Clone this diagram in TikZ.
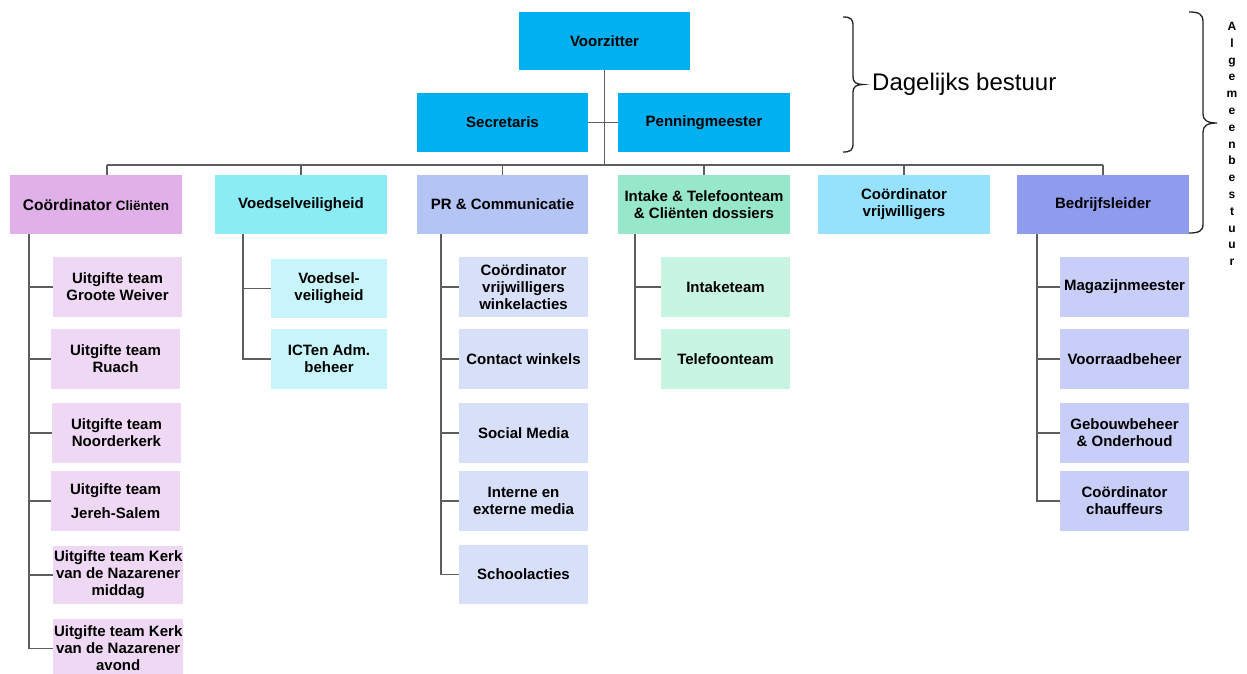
\documentclass[tikz,border=0pt]{standalone}
\usepackage{fontspec}
\setmainfont{Liberation Sans}
\definecolor{topblue}{HTML}{00B0F0}
\definecolor{pinkA}{HTML}{E0B0E8}
\definecolor{pinkB}{HTML}{EFD8F3}
\definecolor{cyanA}{HTML}{8CECF4}
\definecolor{cyanB}{HTML}{C8F5F9}
\definecolor{prA}{HTML}{B4C4F4}
\definecolor{prB}{HTML}{D8E0F9}
\definecolor{grA}{HTML}{96E8C8}
\definecolor{grB}{HTML}{C8F4E2}
\definecolor{cvA}{HTML}{96E2FC}
\definecolor{blA}{HTML}{8F9CEE}
\definecolor{blB}{HTML}{C8CEF8}
\definecolor{linegray}{HTML}{5E5E5E}
\definecolor{bracegray}{HTML}{222222}
\tikzset{
  box/.style={rectangle,draw=none,inner sep=1pt,outer sep=0pt,anchor=north west,
    align=center,text=black,font=\bfseries\fontsize{15}{17}\selectfont},
  link/.style={draw=linegray,line width=1.3pt},
  bracepath/.style={draw=bracegray,line width=1.3pt},
}
\newcommand\orgbox[7]{\node[box,fill=#2,minimum width={#5-#3},minimum height={#6-#4}] (#1) at (#3,#4) {#7};}
\begin{document}
\begin{tikzpicture}[x=1pt,y=-1pt]
\useasboundingbox[fill=white] (0,0) rectangle (1247,673);
% top level
\orgbox{vz}{topblue}{519}{12}{690}{70}{Voorzitter}
\orgbox{sec}{topblue}{417}{93}{588}{152}{Secretaris}
\orgbox{pen}{topblue}{618}{93}{790}{152}{Penningmeester}
% level 2
\orgbox{ccl}{pinkA}{10}{175}{182}{234}{{\fontsize{15.5}{17}\selectfont Coördinator} {\fontsize{13.5}{17}\selectfont Cliënten}}
\orgbox{vv}{cyanA}{215}{175}{387}{234}{Voedselveiligheid}
\orgbox{pr}{prA}{417}{175}{588}{234}{PR \& Communicatie}
\orgbox{int}{grA}{618}{175}{790}{234}{Intake \& Telefoonteam\\\& Cliënten dossiers}
\orgbox{cvw}{cvA}{818}{175}{990}{234}{Coördinator\\vrijwilligers}
\orgbox{bl}{blA}{1017}{175}{1189}{234}{Bedrijfsleider}
% column 1
\orgbox{c1}{pinkB}{53}{257}{182}{317}{Uitgifte team\\Groote Weiver}
\orgbox{c2}{pinkB}{51}{329}{180}{389}{Uitgifte team\\Ruach}
\orgbox{c3}{pinkB}{52}{403}{181}{463}{Uitgifte team\\Noorderkerk}
\orgbox{c4}{pinkB}{51}{471}{180}{531}{Uitgifte team\\[7pt]Jereh-Salem}
\orgbox{c5}{pinkB}{53}{546}{182}{604}{Uitgifte team Kerk\\van de Nazarener\\middag}
\orgbox{c6}{pinkB}{53}{619}{182}{678}{Uitgifte team Kerk\\van de Nazarener\\avond}
% column 2
\orgbox{v1}{cyanB}{271}{259}{387}{318}{Voedsel-\\veiligheid}
\orgbox{v2}{cyanB}{271}{329}{387}{389}{ICTen Adm.\\beheer}
% column 3
\orgbox{p1}{prB}{459}{257}{588}{317}{Coördinator\\vrijwilligers\\winkelacties}
\orgbox{p2}{prB}{459}{329}{588}{389}{Contact winkels}
\orgbox{p3}{prB}{459}{403}{588}{463}{Social Media}
\orgbox{p4}{prB}{459}{471}{588}{531}{Interne en\\externe media}
\orgbox{p5}{prB}{459}{545}{588}{604}{Schoolacties}
% column 4
\orgbox{i1}{grB}{661}{257}{790}{317}{Intaketeam}
\orgbox{i2}{grB}{661}{329}{790}{389}{Telefoonteam}
% column 6
\orgbox{b1}{blB}{1060}{257}{1189}{317}{Magazijnmeester}
\orgbox{b2}{blB}{1060}{329}{1189}{389}{Voorraadbeheer}
\orgbox{b3}{blB}{1060}{403}{1189}{463}{Gebouwbeheer\\\& Onderhoud}
\orgbox{b4}{blB}{1060}{471}{1189}{531}{Coördinator\\chauffeurs}
% coordinates
\coordinate (busL) at (107,165);
\coordinate (busR) at (1103,165);
\coordinate (s1) at (29,0);
\coordinate (s2) at (243,0);
\coordinate (s3) at (441,0);
\coordinate (s4) at (635,0);
\coordinate (s6) at (1037,0);
% top connectors
\draw[link] (vz.south) -- (vz.south |- busL);
\draw[link] (sec.east) -- (pen.west);
\draw[link] (busL) -- (busR);
\draw[link] ([xshift=11pt]ccl.north) -- ([xshift=11pt]ccl.north |- busL);
\foreach \n in {vv,pr,int,cvw,bl} {\draw[link] (\n.north) -- (\n.north |- busL);}
% child stems
\draw[link] (ccl.south -| s1) |- (c6.west);
\foreach \n in {c1,c2,c3,c4,c5} {\draw[link] (\n.west) -- (\n.west -| s1);}
\draw[link] (vv.south -| s2) |- (v2.west);
\draw[link] (v1.west) -- (v1.west -| s2);
\draw[link] (pr.south -| s3) |- (p5.west);
\foreach \n in {p1,p2,p3,p4} {\draw[link] (\n.west) -- (\n.west -| s3);}
\draw[link] (int.south -| s4) |- (i2.west);
\draw[link] (i1.west) -- (i1.west -| s4);
\draw[link] (bl.south -| s6) |- (b4.west);
\foreach \n in {b1,b2,b3} {\draw[link] (\n.west) -- (\n.west -| s6);}
% braces
\draw[bracepath] (843,17) .. controls (851,17) and (853,19) .. (853,26) -- (853,77)
  .. controls (853,82) and (856,84.5) .. (863,84.5)
  .. controls (856,84.5) and (853,87) .. (853,92) -- (853,143)
  .. controls (853,150) and (851,152) .. (843,152);
\node[anchor=west,inner sep=0pt,font=\fontsize{24}{28}\selectfont] (db) at (872,84) {Dagelijks bestuur};
\draw[bracepath] (1189,12) .. controls (1199,12) and (1203,14) .. (1203,22) -- (1203,114)
  .. controls (1203,120) and (1207,123) .. (1217,123)
  .. controls (1207,123) and (1203,126) .. (1203,132) -- (1203,224)
  .. controls (1203,231) and (1199,233) .. (1189,233);
\node[align=center,inner sep=0pt,font=\bfseries\fontsize{12}{16.8}\selectfont] (ab) at (1232,144)
  {A\\l\\g\\e\\m\\e\\e\\n\\b\\e\\s\\t\\u\\u\\r};
\end{tikzpicture}
\end{document}
